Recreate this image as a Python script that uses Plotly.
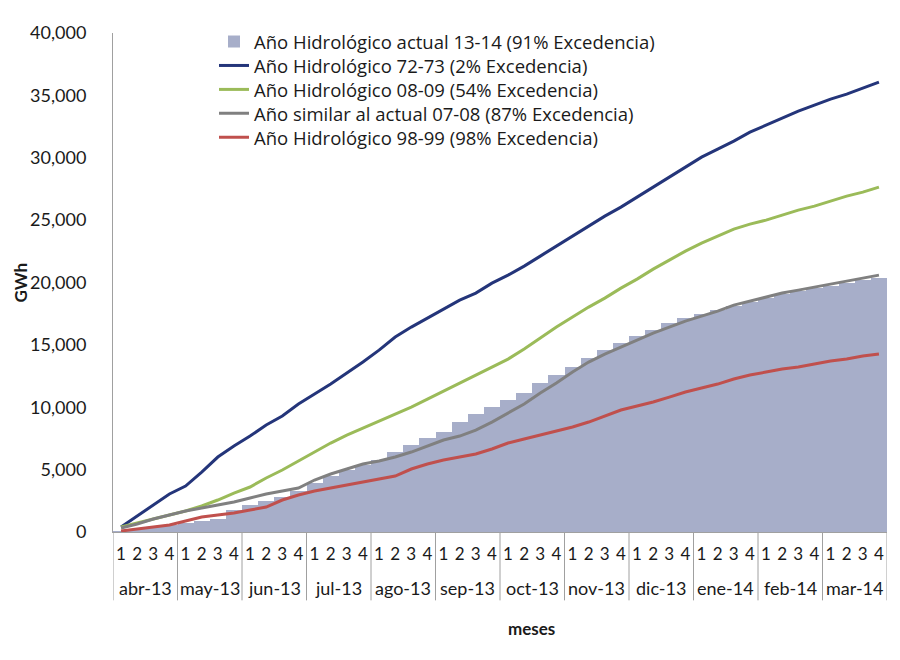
import plotly.graph_objects as go

months = ["abr-13", "may-13", "jun-13", "jul-13", "ago-13", "sep-13",
          "oct-13", "nov-13", "dic-13", "ene-14", "feb-14", "mar-14"]
weeks = ["1", "2", "3", "4"]

actual_13_14 = [80, 240, 400, 561, 721, 881, 1042, 1763, 2164, 2484, 2805, 3285,
                3926, 4487, 4968, 5369, 5769, 6410, 6971, 7532, 8013, 8814, 9455, 10016,
                10577, 11138, 11939, 12580, 13221, 13942, 14583, 15144, 15705, 16186, 16747, 17148,
                17468, 17789, 18109, 18430, 18750, 19071, 19311, 19552, 19712, 19952, 20192, 20353]

h_72_73 = [400, 1282, 2164, 3045, 3686, 4808, 6010, 6891, 7692, 8574, 9295, 10256,
           11057, 11858, 12740, 13622, 14583, 15625, 16426, 17147, 17869, 18590, 19151, 19952,
           20593, 21314, 22115, 22917, 23718, 24519, 25321, 26042, 26843, 27645, 28446, 29247,
           30048, 30689, 31330, 32051, 32612, 33173, 33734, 34215, 34696, 35096, 35577, 36058]

h_08_09 = [401, 721, 1042, 1362, 1683, 2083, 2564, 3125, 3606, 4327, 4968, 5689,
           6410, 7131, 7772, 8333, 8894, 9455, 10016, 10657, 11298, 11939, 12580, 13221,
           13862, 14664, 15545, 16426, 17228, 18029, 18750, 19551, 20273, 21074, 21795, 22516,
           23157, 23718, 24279, 24680, 25000, 25401, 25801, 26122, 26522, 26923, 27244, 27645]

h_07_08 = [321, 641, 1042, 1362, 1683, 1923, 2163, 2404, 2724, 3045, 3285, 3526,
           4167, 4647, 5048, 5449, 5689, 6010, 6410, 6891, 7372, 7692, 8173, 8814,
           9535, 10256, 11138, 11939, 12821, 13622, 14263, 14824, 15385, 15946, 16426, 16907,
           17308, 17709, 18190, 18510, 18830, 19151, 19391, 19632, 19872, 20113, 20353, 20593]

h_98_99 = [80, 240, 401, 561, 881, 1202, 1362, 1522, 1763, 2003, 2564, 2965,
           3285, 3526, 3766, 4006, 4247, 4487, 5048, 5449, 5769, 6010, 6250, 6651,
           7131, 7452, 7772, 8093, 8413, 8814, 9295, 9776, 10096, 10417, 10817, 11218,
           11538, 11859, 12260, 12580, 12821, 13061, 13221, 13462, 13702, 13862, 14103, 14263]

nw = len(weeks)
x_idx = list(range(len(months) * nw))
x_week = [w for _ in months for w in weeks]

FONT = "Lato"
LFONT = "Open Sans"
AX = "#a0a0a0"

fig = go.Figure()
fig.add_trace(go.Bar(x=x_idx, y=actual_13_14, name="Año Hidrológico actual 13-14 (91% Excedencia)",
                     marker=dict(color="rgba(60,75,135,0.45)", line=dict(width=0)),
                     legend="legend"))
fig.add_trace(go.Scatter(x=x_idx, y=h_72_73, mode="lines", name="Año Hidrológico 72-73 (2% Excedencia)",
                         line=dict(color="#24357a", width=3), legend="legend2"))
fig.add_trace(go.Scatter(x=x_idx, y=h_08_09, mode="lines", name="Año Hidrológico 08-09 (54% Excedencia)",
                         line=dict(color="#9bbb59", width=3), legend="legend3"))
fig.add_trace(go.Scatter(x=x_idx, y=h_07_08, mode="lines", name="Año similar al actual 07-08 (87% Excedencia)",
                         line=dict(color="#808080", width=3), legend="legend4"))
fig.add_trace(go.Scatter(x=x_idx, y=h_98_99, mode="lines", name="Año Hidrológico 98-99 (98% Excedencia)",
                         line=dict(color="#c0504d", width=3), legend="legend5"))

def leg(yc):
    return dict(x=0.1305, y=yc, xanchor="left", yanchor="middle",
                bgcolor="rgba(0,0,0,0)", font=dict(size=18.5, family=LFONT, color="#1a1a1a"),
                itemwidth=30)

fig.update_layout(
    width=900, height=660,
    margin=dict(l=105, r=21, t=25, b=136, autoexpand=False),
    paper_bgcolor="white", plot_bgcolor="white",
    font=dict(family=FONT, size=18, color="#1a1a1a"),
    bargap=0,
    showlegend=True,
    legend=leg(0.982), legend2=leg(0.934), legend3=leg(0.886),
    legend4=leg(0.838), legend5=leg(0.790),
    xaxis=dict(range=[-0.5, len(x_idx) - 0.5], tickmode="array", tickvals=x_idx, ticktext=x_week,
               showgrid=False, showline=True, linecolor=AX, linewidth=1, ticks="",
               zeroline=False, ticklabelstandoff=7, tickfont=dict(size=17, family=FONT)),
    yaxis=dict(range=[0, 40000], dtick=5000, tickformat=",", showgrid=False,
               showline=True, linecolor=AX, linewidth=1, zeroline=False,
               ticks="", ticklabelstandoff=22, tickfont=dict(size=18, family=FONT)),
)

# month group labels and dividers
for i, m in enumerate(months):
    fig.add_annotation(text=m, xref="x", yref="paper", x=i * nw + (nw - 1) / 2, y=-0.112,
                       showarrow=False, font=dict(size=18, family=FONT), yanchor="middle")
for i in range(len(months) + 1):
    fig.add_shape(type="line", xref="x", yref="paper", x0=i * nw - 0.5, x1=i * nw - 0.5,
                  y0=0, y1=-0.137, line=dict(color=AX, width=1))

fig.add_annotation(text="<b>GWh</b>", xref="paper", yref="paper", x=-0.119, y=0.5,
                   xanchor="center", yanchor="middle",
                   textangle=-90, showarrow=False, font=dict(size=17, family=FONT))
fig.add_annotation(text="<b>meses</b>", xref="paper", yref="paper", x=0.541, y=-0.193,
                   xanchor="center", yanchor="middle",
                   showarrow=False, font=dict(size=17, family=FONT))

fig.write_html("out.html")
